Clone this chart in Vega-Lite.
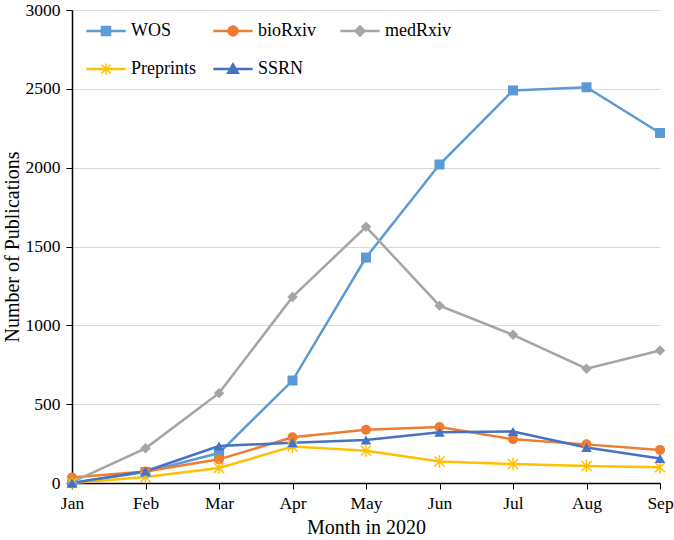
{
  "$schema": "https://vega.github.io/schema/vega-lite/v6.json",
  "autosize": {"type": "none"},
  "padding": {"left": 72, "top": 10, "right": 14, "bottom": 57},
  "width": 588,
  "height": 473,
  "background": "white",
  "config": {
    "font": "Liberation Serif",
    "view": {"stroke": null}
  },
  "data": {
    "values": [
      {"month": "Jan", "series": "WOS", "value": 0},
      {"month": "Feb", "series": "WOS", "value": 70},
      {"month": "Mar", "series": "WOS", "value": 190},
      {"month": "Apr", "series": "WOS", "value": 650},
      {"month": "May", "series": "WOS", "value": 1430},
      {"month": "Jun", "series": "WOS", "value": 2020},
      {"month": "Jul", "series": "WOS", "value": 2490},
      {"month": "Aug", "series": "WOS", "value": 2510},
      {"month": "Sep", "series": "WOS", "value": 2220},
      {"month": "Jan", "series": "bioRxiv", "value": 35},
      {"month": "Feb", "series": "bioRxiv", "value": 73},
      {"month": "Mar", "series": "bioRxiv", "value": 150},
      {"month": "Apr", "series": "bioRxiv", "value": 290},
      {"month": "May", "series": "bioRxiv", "value": 338},
      {"month": "Jun", "series": "bioRxiv", "value": 355},
      {"month": "Jul", "series": "bioRxiv", "value": 278},
      {"month": "Aug", "series": "bioRxiv", "value": 245},
      {"month": "Sep", "series": "bioRxiv", "value": 210},
      {"month": "Jan", "series": "medRxiv", "value": 5},
      {"month": "Feb", "series": "medRxiv", "value": 220},
      {"month": "Mar", "series": "medRxiv", "value": 570},
      {"month": "Apr", "series": "medRxiv", "value": 1180},
      {"month": "May", "series": "medRxiv", "value": 1625},
      {"month": "Jun", "series": "medRxiv", "value": 1125},
      {"month": "Jul", "series": "medRxiv", "value": 940},
      {"month": "Aug", "series": "medRxiv", "value": 725},
      {"month": "Sep", "series": "medRxiv", "value": 840},
      {"month": "Jan", "series": "Preprints", "value": 0},
      {"month": "Feb", "series": "Preprints", "value": 38},
      {"month": "Mar", "series": "Preprints", "value": 95},
      {"month": "Apr", "series": "Preprints", "value": 231},
      {"month": "May", "series": "Preprints", "value": 205},
      {"month": "Jun", "series": "Preprints", "value": 136},
      {"month": "Jul", "series": "Preprints", "value": 120},
      {"month": "Aug", "series": "Preprints", "value": 108},
      {"month": "Sep", "series": "Preprints", "value": 100},
      {"month": "Jan", "series": "SSRN", "value": 0},
      {"month": "Feb", "series": "SSRN", "value": 75},
      {"month": "Mar", "series": "SSRN", "value": 235},
      {"month": "Apr", "series": "SSRN", "value": 255},
      {"month": "May", "series": "SSRN", "value": 273},
      {"month": "Jun", "series": "SSRN", "value": 322},
      {"month": "Jul", "series": "SSRN", "value": 327},
      {"month": "Aug", "series": "SSRN", "value": 225},
      {"month": "Sep", "series": "SSRN", "value": 155}
    ]
  },
  "encoding": {
    "x": {
      "field": "month",
      "type": "ordinal",
      "sort": ["Jan", "Feb", "Mar", "Apr", "May", "Jun", "Jul", "Aug", "Sep"],
      "scale": {"type": "point", "padding": 0},
      "axis": {
        "title": "Month in 2020",
        "titleFontSize": 20,
        "titleFontWeight": "normal",
        "titleColor": "black",
        "titlePadding": 6,
        "labelAngle": 0,
        "labelFontSize": 17.5,
        "labelColor": "black",
        "labelPadding": 5,
        "domainColor": "black",
        "domainWidth": 1.5,
        "tickColor": "black",
        "tickSize": 6,
        "grid": false
      }
    },
    "y": {
      "field": "value",
      "type": "quantitative",
      "scale": {"domain": [0, 3000], "nice": false},
      "axis": {
        "title": "Number of Publications",
        "titleFontSize": 20,
        "titleFontWeight": "normal",
        "titleColor": "black",
        "titlePadding": 3,
        "format": "d",
        "values": [0, 500, 1000, 1500, 2000, 2500, 3000],
        "labelFontSize": 17.5,
        "labelColor": "black",
        "labelPadding": 6,
        "domainColor": "black",
        "domainWidth": 1.5,
        "tickColor": "black",
        "tickSize": 6,
        "gridColor": "#D9D9D9",
        "gridWidth": 1.2
      }
    },
    "color": {
      "field": "series",
      "type": "nominal",
      "scale": {
        "domain": ["WOS", "bioRxiv", "medRxiv", "Preprints", "SSRN"],
        "range": ["#5B9BD5", "#ED7D31", "#A5A5A5", "#FFC000", "#4472C4"]
      },
      "legend": {
        "title": null,
        "orient": "none",
        "direction": "horizontal",
        "legendX": 25,
        "legendY": 12,
        "columns": 3,
        "gridAlign": "all",
        "columnPadding": 14,
        "rowPadding": 20,
        "labelFont": "Liberation Serif",
        "labelFontSize": 18,
        "labelColor": "black",
        "labelOffset": 16,
        "symbolSize": 81,
        "symbolStrokeWidth": 1.5,
        "symbolOpacity": 1
      }
    }
  },
  "layer": [
    {
      "mark": {"type": "line", "strokeWidth": 2.5}
    },
    {
      "transform": [{"filter": "datum.series === 'WOS'"}],
      "mark": {"type": "point", "shape": "square", "filled": true, "opacity": 1, "size": 100}
    },
    {
      "transform": [{"filter": "datum.series === 'bioRxiv'"}],
      "mark": {"type": "point", "shape": "circle", "filled": true, "opacity": 1, "size": 100}
    },
    {
      "transform": [{"filter": "datum.series === 'medRxiv'"}],
      "mark": {"type": "point", "shape": "diamond", "filled": true, "opacity": 1, "size": 110}
    },
    {
      "transform": [{"filter": "datum.series === 'Preprints'"}],
      "mark": {"type": "point", "shape": "M-1,-1L1,1M-1,1L1,-1M0,-1.25L0,1.25", "filled": false, "opacity": 1, "size": 100, "strokeWidth": 1.5}
    },
    {
      "transform": [{"filter": "datum.series === 'SSRN'"}],
      "mark": {"type": "point", "shape": "triangle-up", "filled": true, "opacity": 1, "size": 110}
    },
    {
      "mark": {"type": "point", "filled": true, "opacity": 0, "size": 81, "strokeWidth": 1.5},
      "encoding": {
        "stroke": {
          "field": "series",
          "type": "nominal",
          "scale": {
            "domain": ["WOS", "bioRxiv", "medRxiv", "Preprints", "SSRN"],
            "range": ["#5B9BD5", "#ED7D31", "#A5A5A5", "#FFC000", "#4472C4"]
          }
        },
        "shape": {
          "field": "series",
          "type": "nominal",
          "scale": {
            "domain": ["WOS", "bioRxiv", "medRxiv", "Preprints", "SSRN"],
            "range": [
              "M-4.2,-0.12L4.2,-0.12L4.2,0.12L-4.2,0.12Z M-1,-1L1,-1L1,1L-1,1Z",
              "M-4.2,-0.12L4.2,-0.12L4.2,0.12L-4.2,0.12Z M1.1,0A1.1,1.1,0,1,1,-1.1,0A1.1,1.1,0,1,1,1.1,0Z",
              "M-4.2,-0.12L4.2,-0.12L4.2,0.12L-4.2,0.12Z M0,-1.15L1.15,0L0,1.15L-1.15,0Z",
              "M-4.2,-0.12L4.2,-0.12L4.2,0.12L-4.2,0.12Z M-1,-1L1,1M-1,1L1,-1M0,-1.25L0,1.25",
              "M-4.2,-0.12L4.2,-0.12L4.2,0.12L-4.2,0.12Z M0,-1.2L1.25,0.95L-1.25,0.95Z"
            ]
          }
        }
      }
    }
  ]
}
